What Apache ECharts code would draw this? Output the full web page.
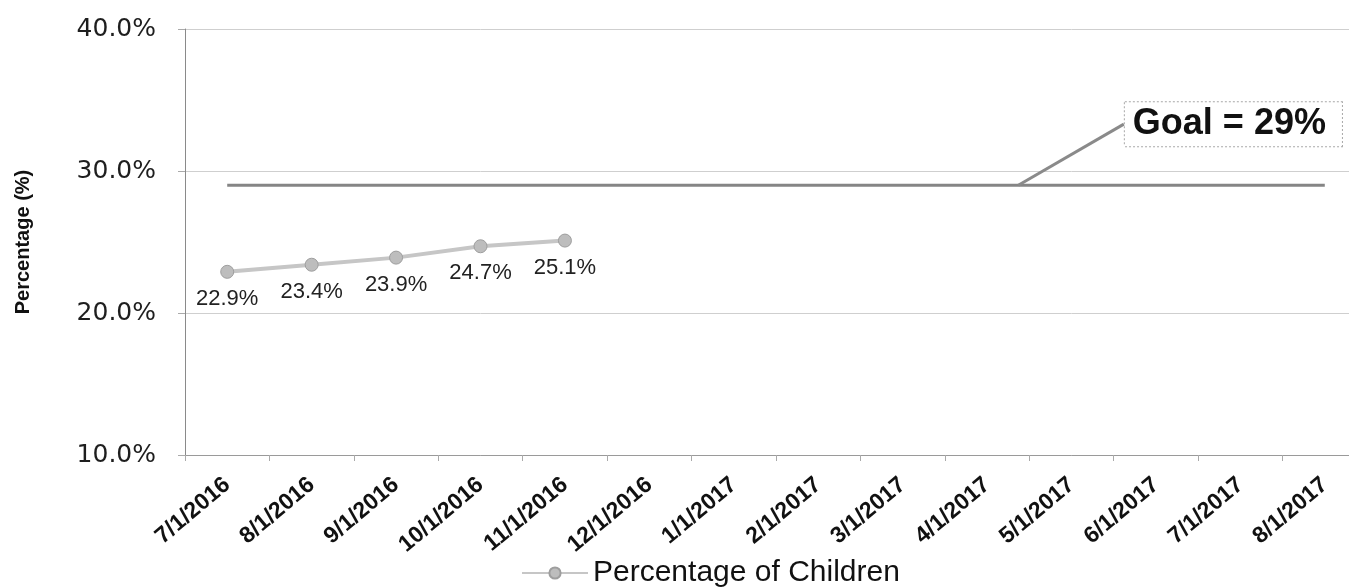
<!DOCTYPE html>
<html>
<head>
<meta charset="utf-8">
<script src="https://cdn.jsdelivr.net/npm/echarts@6/dist/echarts.min.js"></script>
<style>
  html, body { margin: 0; padding: 0; background: #ffffff; overflow: hidden; }
  #wrap { width: 1349px; height: 588px; overflow: hidden; }
  /* the plot runs a little past the right edge of the page */
  #chart { width: 1367px; height: 588px; }
</style>
</head>
<body>
<div id="wrap"><div id="chart"></div></div>
<script>
// Monthly reporting periods
const months = ['7/1/2016', '8/1/2016', '9/1/2016', '10/1/2016', '11/1/2016', '12/1/2016',
  '1/1/2017', '2/1/2017', '3/1/2017', '4/1/2017', '5/1/2017', '6/1/2017', '7/1/2017', '8/1/2017'];

// Percentage of children (reported months only)
const childrenPct = [22.9, 23.4, 23.9, 24.7, 25.1];

// Target level across the whole period
const goalPct = 29;
const goalSeries = months.map(() => goalPct);

// Callout for the goal: from the goal line up to its label (x in month slots, y in %)
const goalCallout = [[9.87, 29], [11.12, 33.3]];
const goalText = 'Goal = 29%';

// Value axis ticks
const yMin = 10, yMax = 40, yStep = 10;

const chart = echarts.init(document.getElementById('chart'));

chart.setOption({
  animation: false,
  backgroundColor: '#ffffff',
  grid: { left: 185, right: 0, top: 29, bottom: 133, containLabel: false },
  legend: {
    data: ['Percentage of Children'],
    left: 516,
    top: 553,
    itemWidth: 66,
    itemHeight: 14,
    itemGap: 8,
    textStyle: { fontFamily: 'Liberation Sans', fontSize: 30, color: '#111' }
  },
  xAxis: [
    {
      type: 'category',
      data: months,
      boundaryGap: true,
      axisLine: { lineStyle: { color: '#9a9a9a', width: 1 } },
      axisTick: { show: true, length: 6, lineStyle: { color: '#aaaaaa' } },
      axisLabel: {
        rotate: 40,
        margin: 27,
        interval: 0,
        fontFamily: 'Liberation Sans',
        fontWeight: 'bold',
        fontSize: 23,
        color: '#111'
      },
      splitLine: { show: false }
    },
    {
      type: 'value',
      min: 0,
      max: months.length,
      show: false
    }
  ],
  yAxis: {
    type: 'value',
    min: yMin,
    max: yMax,
    interval: yStep,
    name: 'Percentage (%)',
    nameLocation: 'middle',
    nameGap: 152,
    nameRotate: 90,
    nameTextStyle: { fontFamily: 'Liberation Sans', fontWeight: 'bold', fontSize: 20, color: '#111' },
    axisLine: { show: true, lineStyle: { color: '#8a8a8a', width: 1 } },
    axisTick: { show: true, length: 7, lineStyle: { color: '#aaaaaa' } },
    axisLabel: {
      margin: 29,
      fontFamily: 'DejaVu Sans',
      fontSize: 25,
      color: '#1e1e1e',
      formatter: v => v.toFixed(1) + '%'
    },
    splitLine: { show: true, lineStyle: { color: '#cfcfcf', width: 1 } }
  },
  series: [
    {
      name: 'Goal',
      type: 'line',
      data: goalSeries,
      symbol: 'none',
      lineStyle: { color: '#858585', width: 3 },
      z: 2
    },
    {
      name: 'Goal callout',
      type: 'line',
      xAxisIndex: 1,
      data: goalCallout.map((p, i) => i === goalCallout.length - 1
        ? {
            value: p,
            label: {
              show: true,
              position: 'right',
              distance: 0,
              formatter: goalText,
              fontFamily: 'Liberation Sans',
              fontWeight: 'bold',
              fontSize: 36,
              lineHeight: 36,
              color: '#111',
              backgroundColor: '#ffffff',
              borderColor: '#a8a8a8',
              borderWidth: 1,
              borderType: 'dotted',
              padding: [4, 16, 4, 8]
            }
          }
        : { value: p }),
      symbol: 'circle',
      symbolSize: 2,
      showSymbol: true,
      itemStyle: { color: 'rgba(0,0,0,0)', borderWidth: 0 },
      lineStyle: { color: '#8a8a8a', width: 3 },
      z: 3
    },
    {
      name: 'Percentage of Children',
      type: 'line',
      data: childrenPct,
      symbol: 'circle',
      symbolSize: 13,
      itemStyle: { color: '#bdbdbd', borderColor: '#9e9e9e', borderWidth: 1 },
      lineStyle: { color: '#c6c6c6', width: 4 },
      label: {
        show: true,
        position: 'bottom',
        distance: 9,
        formatter: p => p.value.toFixed(1) + '%',
        fontFamily: 'Liberation Sans',
        fontSize: 22,
        color: '#222'
      },
      z: 4
    }
  ]
});
</script>
</body>
</html>
